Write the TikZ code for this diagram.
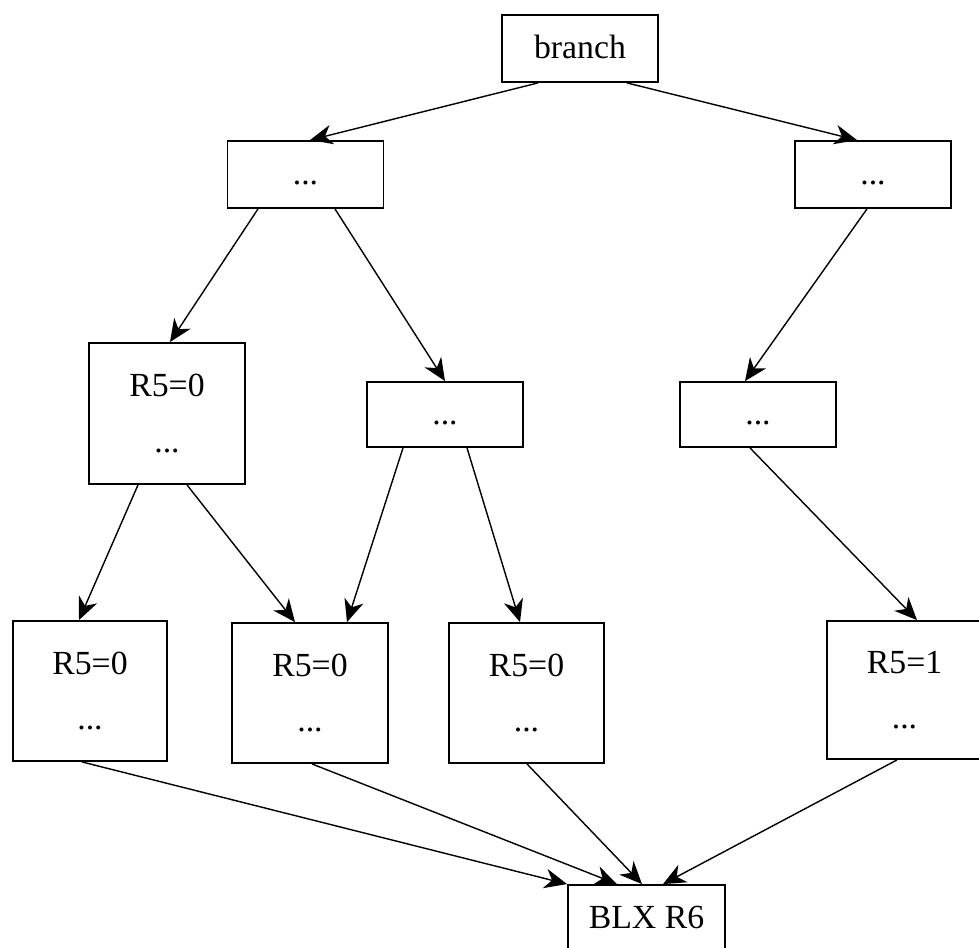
\documentclass[tikz,border=0pt]{standalone}
\usepackage{fontspec}
\setmainfont{Liberation Serif}
\usetikzlibrary{positioning, calc, arrows.meta}
\tikzset{
  blocco/.style={draw, line width=1.3pt, inner sep=0pt, minimum width=3.9cm, minimum height=1.675cm,
    text height=20pt, text depth=5.5pt, font=\fontsize{24}{29}\selectfont},
  bloccoalto/.style={draw, line width=1.3pt, inner sep=0pt, minimum width=3.9cm, minimum height=3.5cm,
    align=center, font=\fontsize{24}{39.5}\selectfont},
  freccia/.style={-{Stealth[length=16pt, width=14pt, inset=5pt]}, line width=1pt}
}
\begin{document}
\begin{tikzpicture}[x=0.025cm, y=-0.025cm]
    \useasboundingbox (0,0) rectangle (979,947);
    %disegno blocchi
    \node[blocco] (branch) at (580,48.5) {branch};
    \node[blocco] (sx) at (305.5,174.5) {...};
    \node[blocco] (dx) at (873,174.5) {...};
    %livello intermedio
    \node[bloccoalto, minimum height=3.525cm] (sxsx) at (167,413.5) {R5=0\\...};
    \node[blocco, minimum height=1.625cm] (sxdx) at (445,414.5) {...};
    \node[blocco, minimum height=1.625cm] (dxdx) at (758,414.5) {...};
    %foglie
    \node[bloccoalto, minimum width=3.85cm] (fa) at (90,691) {R5=0\\...};
    \node[bloccoalto] (fb) at (310,693) {R5=0\\...};
    \node[bloccoalto, minimum width=3.875cm] (fc) at (526.5,693) {R5=0\\...};
    \node[bloccoalto, minimum width=3.875cm, minimum height=3.45cm] (fd) at (904.5,690) {R5=1\\...};
    \node[blocco, minimum width=3.925cm] (blx) at (646.5,918.5) {BLX R6};
    %collegamenti
    \draw[freccia] ($(branch.south)+(-42,0)$) -- ($(sx.north)+(4.5,0)$);
    \draw[freccia] ($(branch.south)+(47,0)$) -- ($(dx.north)+(-16,0)$);
    \draw[freccia] ($(sx.south)+(-47.5,0)$) -- ($(sxsx.north)+(3,0)$);
    \draw[freccia] ($(sx.south)+(29.5,0)$) -- (sxdx.north);
    \draw[freccia] ($(dx.south)+(-6,0)$) -- ($(dxdx.north)+(-13,0)$);
    \draw[freccia] ($(sxsx.south)+(-29,0)$) -- ($(fa.north)+(-11,0)$);
    \draw[freccia] ($(sxsx.south)+(20,0)$) -- ($(fb.north)+(-15,0)$);
    \draw[freccia] ($(sxdx.south)+(-42,0)$) -- ($(fb.north)+(37,0)$);
    \draw[freccia] ($(sxdx.south)+(22,0)$) -- ($(fc.north)+(-6.5,0)$);
    \draw[freccia] ($(dxdx.south)+(-8,0)$) -- ($(fd.north)+(12.5,0)$);
    %verso BLX
    \draw[freccia] ($(fa.south)+(-8,0)$) -- (blx.north west);
    \draw[freccia] ($(fb.south)+(2,0)$) -- ($(blx.north)+(-29.5,0)$);
    \draw[freccia] ($(fc.south)+(0.5,0)$) -- ($(blx.north)+(-4.5,0)$);
    \draw[freccia] ($(fd.south)+(-7.5,0)$) -- ($(blx.north)+(16.5,0)$);
\end{tikzpicture}
\end{document}
